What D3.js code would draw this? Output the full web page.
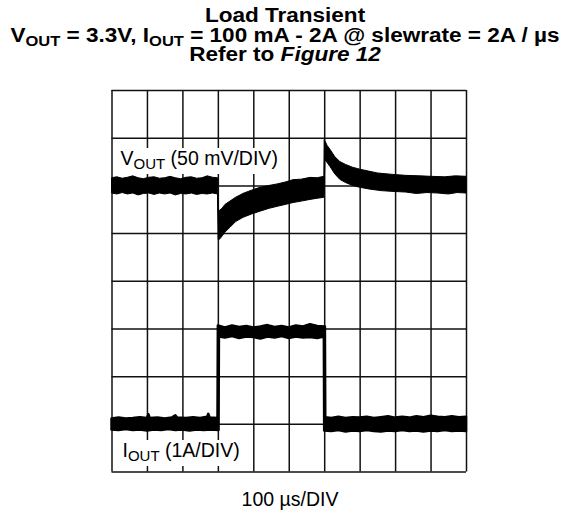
<!DOCTYPE html>
<html>
<head>
<meta charset="utf-8">
<script src="https://cdn.jsdelivr.net/npm/d3@7"></script>
<style>
  body { margin: 0; background: #fff; }
  svg { display: block; font-family: "Liberation Sans", Arial, Helvetica, sans-serif; }
</style>
</head>
<body>
<div id="chart"></div>
<script>
  // scope screen: 10 x 100 us, 8 vertical divisions
  const timeTicks = d3.range(0, 1001, 100)
  const divTicks = d3.range(0, 9, 1)

  // V_OUT band (deviation in mV, 50 mV/DIV), upper and lower edge of the noisy trace
  const voutUpper = [
    [0, 8], [15, 9], [30, 7.5], [45, 8.5], [60, 10], [75, 8], [90, 7], [105, 8.5], [120, 9],
    [135, 7.5], [150, 8], [165, 9.5], [180, 8], [195, 7], [210, 8.5], [225, 9], [240, 7.5],
    [255, 8], [270, 10], [285, 8.5], [299, 8],
    [301, -27], [305, -26], [312, -24], [320, -20], [334, -16.5], [350, -12.5], [371, -8.4],
    [395, -5], [419, -2], [445, 0], [467, 1.5], [490, 3.5], [512, 6], [535, 6.5], [560, 8.4],
    [580, 8], [599, 9.5],
    [600, 48], [603, 46], [608, 42], [616, 38], [630, 30], [644, 25], [660, 22], [680, 19],
    [700, 17], [725, 15], [750, 13], [794, 11.5], [830, 10.5], [870, 10], [900, 9.5],
    [940, 9], [970, 10], [1000, 9.5]
  ]
  const voutLower = [
    [0, -8], [15, -9], [30, -7.5], [45, -9], [60, -8], [75, -10], [90, -8.5], [105, -8],
    [120, -9.5], [135, -8], [150, -9], [165, -8], [180, -10], [195, -8.5], [210, -9],
    [225, -8], [240, -9.5], [255, -8.5], [270, -9], [285, -8], [299, -9],
    [301, -57], [306, -56], [312, -53], [320, -49], [334, -44], [350, -38], [371, -33.5],
    [395, -30], [419, -27], [445, -24], [467, -22], [490, -20], [512, -18], [535, -16.5],
    [560, -14.7], [580, -13.5], [599, -12.5],
    [602, 27], [608, 24], [616, 20], [630, 12], [644, 6.3], [660, 3], [680, 0], [700, -2],
    [730, -4], [760, -5.5], [794, -6.3], [830, -7], [860, -8.5], [890, -7.5], [920, -8],
    [950, -9], [975, -7.5], [1000, -8]
  ]

  // I_OUT band (A, 1A/DIV)
  const ioutUpper = [
    [0, 0.21], [20, 0.23], [40, 0.21], [60, 0.22], [80, 0.24], [100, 0.22], [104, 0.3],
    [108, 0.22], [130, 0.23], [150, 0.21], [170, 0.23], [180, 0.28], [185, 0.23], [210, 0.22],
    [230, 0.24], [250, 0.22], [270, 0.25], [273, 0.31], [277, 0.23], [299, 0.22],
    [300, 2.16], [320, 2.12], [340, 2.16], [360, 2.13], [380, 2.15], [400, 2.12], [420, 2.14],
    [440, 2.17], [460, 2.13], [480, 2.15], [500, 2.12], [520, 2.16], [540, 2.14], [560, 2.19],
    [580, 2.15], [602, 2.14],
    [603, 0.24], [620, 0.22], [640, 0.25], [660, 0.22], [680, 0.24], [700, 0.23], [720, 0.25],
    [740, 0.22], [760, 0.24], [780, 0.26], [800, 0.23], [820, 0.25], [840, 0.23], [860, 0.26],
    [880, 0.24], [900, 0.27], [920, 0.25], [940, 0.24], [960, 0.26], [980, 0.24], [1000, 0.25]
  ]
  const ioutLower = [
    [0, -0.02], [20, -0.03], [40, -0.01], [60, -0.03], [80, -0.02], [100, -0.04], [120, -0.02],
    [140, -0.03], [160, -0.01], [180, -0.03], [200, -0.02], [220, -0.04], [240, -0.02],
    [260, -0.03], [280, -0.02], [302, -0.03],
    [303, 1.93], [320, 1.91], [340, 1.94], [360, 1.9], [380, 1.93], [400, 1.92], [420, 1.89],
    [440, 1.93], [460, 1.91], [480, 1.94], [500, 1.9], [520, 1.93], [540, 1.91], [560, 1.92],
    [580, 1.9], [599, 1.93],
    [600, -0.04], [620, -0.05], [640, -0.03], [660, -0.06], [680, -0.04], [700, -0.05],
    [720, -0.03], [740, -0.05], [760, -0.06], [780, -0.04], [800, -0.05], [820, -0.03],
    [840, -0.05], [860, -0.04], [880, -0.06], [900, -0.04], [920, -0.05], [940, -0.03],
    [960, -0.05], [980, -0.04], [1000, -0.05]
  ]

  const width = 569
  const height = 514
  const margin = { top: 90, right: 103, bottom: 42.5, left: 111.5 }

  const svg = d3.select('#chart')
    .append('svg')
    .attr('width', width)
    .attr('height', height)

  const x = d3.scaleLinear()
    .domain([0, 1000])
    .range([margin.left, width - margin.right])

  const y = d3.scaleLinear()
    .domain([0, 8])
    .range([height - margin.bottom, margin.top])

  // channel scales: V_OUT zero at div 6 (50 mV/div), I_OUT zero at div 0.9 (1 A/div)
  const yV = d3.scaleLinear()
    .domain([-300, 100])
    .range(y.range())
  const yI = d3.scaleLinear()
    .domain([-0.9, 7.1])
    .range(y.range())

  // grid
  svg.append("g")
    .attr("transform", `translate(0,${y(0)})`)
    .call(d3.axisBottom(x).tickValues(timeTicks).tickSize(-(y(0) - y(8))).tickFormat(""))
    .call(g => g.select(".domain").remove())
    .call(g => g.selectAll("line").attr("stroke", "#111").attr("stroke-width", 1.5))

  svg.append("g")
    .attr("transform", `translate(${x(0)},0)`)
    .call(d3.axisLeft(y).tickValues(divTicks).tickSize(-(x(1000) - x(0))).tickFormat(""))
    .call(g => g.select(".domain").remove())
    .call(g => g.selectAll("line").attr("stroke", "#111").attr("stroke-width", 1.5))

  const band = (upper, lower, ys) => {
    const pts = upper.concat(lower.slice().reverse())
    return d3.line().x(d => x(d[0])).y(d => ys(d[1]))(pts) + "Z"
  }

  svg.append("path")
    .attr("d", band(voutUpper, voutLower, yV))
    .attr("fill", "#000")
    .attr("stroke", "#000")
    .attr("stroke-width", 1)
    .attr("stroke-linejoin", "round")

  svg.append("path")
    .attr("d", band(ioutUpper, ioutLower, yI))
    .attr("fill", "#000")
    .attr("stroke", "#000")
    .attr("stroke-width", 2.5)
    .attr("stroke-linejoin", "round")

  // channel labels on white boxes
  const chLabel = (tx, ty, main, sub, rest) => {
    const box = svg.append("rect").attr("fill", "#fff")
    const t = svg.append("text")
      .attr("x", tx)
      .attr("y", ty)
      .attr("font-size", 19.5)
      .attr("fill", "#000")
    t.append("tspan").text(main)
    t.append("tspan").attr("font-size", 15).attr("dy", 4).text(sub)
    t.append("tspan").attr("dy", -4).text(rest)
    const bb = t.node().getBBox()
    box.attr("x", x(0) + 1.5).attr("y", bb.y + 1)
      .attr("width", bb.x + bb.width + 3 - x(0) - 1.5).attr("height", bb.height + 1)
  }
  chLabel(x(0) + 9, 165, "V", "OUT", " (50 mV/DIV)")
  chLabel(x(0) + 11, 457, "I", "OUT", " (1A/DIV)")

  svg.append("text")
    .attr("x", 290)
    .attr("y", 506)
    .attr("text-anchor", "middle")
    .attr("font-size", 19.5)
    .text("100 µs/DIV")

  // title: wide bold face, stretched a little horizontally
  const title = svg.append("g")
    .attr("transform", "translate(285,0) scale(1.1,1)")
    .attr("font-weight", "bold")
    .attr("font-size", 20.5)
    .attr("text-anchor", "middle")

  title.append("text").attr("x", 0).attr("y", 22).text("Load Transient")

  const t2 = title.append("text").attr("x", 0).attr("y", 42)
  t2.append("tspan").text("V")
  t2.append("tspan").attr("font-size", 15).attr("dy", 4).text("OUT")
  t2.append("tspan").attr("dy", -4).text(" = 3.3V, I")
  t2.append("tspan").attr("font-size", 15).attr("dy", 4).text("OUT")
  t2.append("tspan").attr("dy", -4).text(" = 100 mA - 2A @ slewrate = 2A / µs")

  const t3 = title.append("text").attr("x", 0).attr("y", 61)
  t3.append("tspan").text("Refer to ")
  t3.append("tspan").attr("font-style", "italic").text("Figure 12")
</script>
</body>
</html>
